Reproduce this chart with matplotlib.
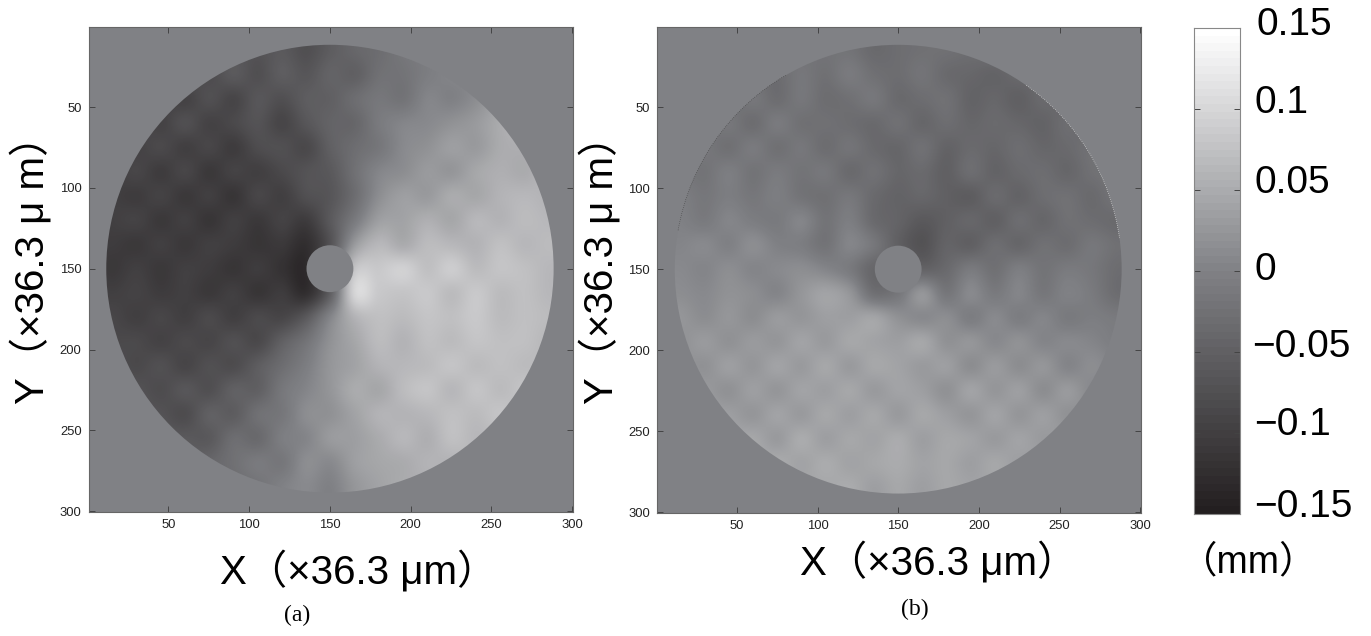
import numpy as np
import matplotlib
matplotlib.use("Agg")
import matplotlib.pyplot as plt
from matplotlib.colors import LinearSegmentedColormap
from matplotlib.patches import Circle, Arc

W, H = 1371, 636
tick_vals = [50, 100, 150, 200, 250, 300]
cbar_vals = [-0.15, -0.1, -0.05, 0, 0.05, 0.1, 0.15]
cbar_labels = ["\u22120.15", "\u22120.1", "\u22120.05", "0", "0.05", "0.1", "0.15"]
grid_positions = list(range(0, 301, 15))

# Estimated height in micrometres at each grid position: rows are Y, columns are X
panel_a_um = [
 [-80,-80,-80,-80,-70,-70,-65,-70,-60,-75,-55,-40,-30,-15,-5,5,15,25,30,30,30],
 [-80,-80,-80,-80,-70,-70,-65,-70,-60,-75,-55,-40,-30,-15,-5,5,15,25,30,30,30],
 [-85,-85,-85,-75,-70,-80,-60,-75,-55,-65,-45,-50,-25,-20,-5,5,10,30,35,40,40],
 [-90,-90,-90,-85,-95,-75,-90,-65,-75,-55,-50,-30,-15,-20,5,0,15,40,50,50,50],
 [-90,-90,-80,-95,-75,-95,-85,-70,-90,-65,-45,-40,-10,5,10,20,30,50,65,60,60],
 [-90,-90,-95,-85,-100,-90,-105,-80,-75,-85,-50,-30,-15,10,20,35,30,50,55,65,65],
 [-95,-100,-90,-105,-90,-110,-95,-100,-85,-70,-60,-25,5,15,30,25,45,55,50,65,65],
 [-100,-100,-105,-95,-110,-100,-115,-90,-100,-75,-65,-30,15,35,30,50,45,60,65,60,60],
 [-105,-100,-95,-110,-100,-115,-100,-110,-95,-105,-60,-10,35,40,55,45,65,60,70,65,65],
 [-105,-105,-110,-100,-110,-100,-105,-115,-110,-125,-70,30,65,50,70,65,60,75,65,70,70],
 [-100,-110,-100,-110,-100,-105,-115,-105,-120,-130,-40,80,85,95,75,90,70,80,75,65,65],
 [-95,-100,-95,-105,-100,-110,-100,-115,-105,-125,-50,100,85,80,85,70,85,70,75,65,65],
 [-90,-90,-100,-90,-100,-85,-100,-85,-90,-60,5,60,75,70,80,75,85,70,75,70,70],
 [-80,-85,-85,-95,-85,-90,-75,-85,-50,-20,20,45,70,60,75,70,80,75,75,65,65],
 [-75,-75,-85,-75,-90,-75,-80,-55,-30,-5,25,40,60,65,70,80,70,75,70,70,70],
 [-70,-70,-70,-80,-65,-75,-50,-50,-15,5,25,50,45,70,80,65,80,70,80,80,80],
 [-65,-65,-65,-70,-80,-50,-55,-25,-15,15,20,40,60,60,65,75,70,80,70,70,70],
 [-60,-60,-60,-60,-60,-60,-30,-35,-5,5,30,35,50,65,55,75,65,70,70,70,70],
 [-50,-50,-50,-50,-50,-40,-25,-10,-15,15,10,35,45,50,60,60,70,70,70,70,70],
 [-40,-40,-40,-40,-40,-40,-30,-20,0,10,0,25,40,50,55,60,60,60,60,60,60],
 [-40,-40,-40,-40,-40,-40,-30,-20,0,10,0,25,40,50,55,60,60,60,60,60,60],
]
panel_b_um = [
 [-15,-15,-15,-15,-15,-15,-20,-20,-20,-35,-30,-25,-25,-30,-25,-25,-25,-25,-25,-25,-25],
 [-15,-15,-15,-15,-15,-15,-20,-20,-20,-35,-30,-25,-25,-30,-25,-25,-25,-25,-25,-25,-25],
 [-20,-20,-20,-20,-25,-30,-15,-25,-10,-25,-30,-20,-35,-40,-45,-35,-35,-30,-30,-30,-30],
 [-25,-25,-25,-30,-15,-30,-15,-30,-25,-15,-35,-30,-25,-45,-40,-50,-35,-40,-30,-30,-30],
 [-25,-25,-25,-15,-30,-10,-25,-25,-30,-35,-25,-40,-30,-40,-35,-40,-45,-30,-40,-35,-35],
 [-20,-20,-15,-25,-10,-25,-15,-30,-20,-35,-40,-25,-45,-35,-40,-30,-40,-35,-25,-35,-35],
 [-15,-15,-20,-5,-20,-10,-20,-15,-35,-25,-40,-35,-50,-30,-45,-35,-30,-40,-25,-20,-20],
 [-5,-5,-15,-5,-15,-5,-20,-25,-15,-35,-45,-40,-50,-55,-35,-45,-30,-25,-35,-20,-20],
 [0,0,-10,5,-5,-10,5,-20,-5,-35,-45,-60,-50,-40,-50,-30,-40,-25,-30,-35,-35],
 [5,5,10,0,15,0,-5,-20,5,-15,-50,-70,-45,-50,-30,-40,-25,-30,-15,-25,-25],
 [10,10,5,15,5,10,15,5,-10,-40,-30,-45,-35,-10,-25,-5,-20,-10,-15,-30,-30],
 [15,15,10,20,15,5,25,40,25,-25,-15,25,-15,10,-10,5,-15,0,-10,-30,-30],
 [25,25,15,25,15,30,25,35,35,42,20,10,15,-5,10,-5,5,-10,-5,-10,-10],
 [20,20,30,20,30,25,40,30,45,40,35,45,20,25,10,20,5,10,5,-5,-5],
 [25,25,20,35,25,40,30,45,30,45,40,30,35,15,30,15,25,5,15,5,5],
 [30,30,30,20,35,25,40,35,45,30,40,35,20,40,25,35,15,30,10,10,10],
 [35,35,35,35,25,40,30,45,35,45,30,45,35,25,40,25,35,20,25,25,25],
 [40,40,40,40,45,30,50,35,45,40,50,35,45,40,30,40,30,35,30,30,30],
 [45,45,45,45,45,50,40,50,40,45,50,40,45,35,45,35,40,35,35,35,35],
 [45,45,45,45,45,45,45,45,50,35,45,35,45,40,40,40,40,40,40,40,40],
 [45,45,45,45,45,45,45,45,50,35,45,35,45,40,40,40,40,40,40,40,40],
]

cmap_nodes = [(0, "#231f20"), (0.5, "#808185"), (1, "#ffffff")]
cmap = LinearSegmentedColormap.from_list("bar", cmap_nodes, N=64)
cmap_fine = LinearSegmentedColormap.from_list("fine", cmap_nodes, N=256)
background = "#808185"
centre = 150
disc_radius = 138.5
hole_radius = 14.5
mixed = ["Liberation Sans", "Noto Sans CJK JP"]
sans = ["Liberation Sans"]
serif = ["Liberation Serif"]


def fig_x(px):
    return px / W


def fig_y(py):
    return 1 - py / H


def make_axes(fig, x0, x1, y0, y1):
    return fig.add_axes([x0 / W, 1 - y1 / H, (x1 - x0) / W, (y1 - y0) / H])


def draw_panel(ax, values_um):
    Z = np.array(values_um) / 1000
    half = (grid_positions[1] - grid_positions[0]) / 2
    low, high = grid_positions[0] - half, grid_positions[-1] + half
    ax.set_facecolor(background)
    im = ax.imshow(Z, cmap=cmap_fine, vmin=-0.15, vmax=0.15, interpolation="catrom",
                   interpolation_stage="data", extent=(low, high, high, low),
                   aspect="auto")
    im.set_clip_path(Circle((centre, centre), disc_radius, transform=ax.transData))
    ax.add_patch(Circle((centre, centre), hole_radius, fc=background, ec="none"))
    ax.set_xlim(0.5, 300.5)
    ax.set_ylim(300.5, 0.5)
    ax.set_xticks(tick_vals)
    ax.set_yticks(tick_vals)
    ax.tick_params(direction="in", length=4, width=0.7, color="#444444",
                   labelsize=9.4, labelcolor="#222222", top=True, right=True, pad=5)
    for lab in ax.get_xticklabels() + ax.get_yticklabels():
        lab.set_family(sans)
    for s in ax.spines.values():
        s.set_linewidth(0.8)
        s.set_color("#666666")


fig = plt.figure(figsize=(W / 100, H / 100), dpi=100)
ax_a = make_axes(fig, 88.5, 573, 27, 512)
ax_b = make_axes(fig, 657, 1141, 27, 513)
draw_panel(ax_a, panel_a_um)
draw_panel(ax_b, panel_b_um)
ax_b.add_patch(Arc((centre, centre), 2 * disc_radius, 2 * disc_radius,
                   theta1=305, theta2=352, color="#e8e8e8", lw=0.5, ls=(0, (1, 2))))
ax_b.add_patch(Arc((centre, centre), 2 * disc_radius, 2 * disc_radius,
                   theta1=190, theta2=240, color="#444444", lw=0.5, ls=(0, (1, 2))))

xlabel = "X\uff08\u00d736.3 \u03bcm\uff09"
ylabel = "Y\uff08\u00d736.3 \u03bc m\uff09"
fs = 29
fig.text(fig_x(359), fig_y(571), xlabel, family=mixed, fontsize=fs, ha="center", va="center")
fig.text(fig_x(939), fig_y(562), xlabel, family=mixed, fontsize=fs, ha="center", va="center")
fig.text(fig_x(31), fig_y(260), ylabel, family=mixed, fontsize=fs, rotation=90, ha="center", va="center")
fig.text(fig_x(600), fig_y(260), ylabel, family=mixed, fontsize=fs, rotation=90, ha="center", va="center")
fig.text(fig_x(297), fig_y(615), "(a)", family=serif, fontsize=17, ha="center", va="center")
fig.text(fig_x(915), fig_y(609), "(b)", family=serif, fontsize=17, ha="center", va="center")

cax = make_axes(fig, 1194, 1240, 28, 514)
level_edges = np.linspace(-0.15, 0.15, 65)
cax.pcolormesh([0, 1], level_edges,
               ((level_edges[:-1] + level_edges[1:]) / 2)[:, None],
               cmap=cmap, vmin=-0.15, vmax=0.15)
cax.set_xlim(0, 1)
cax.set_ylim(-0.15, 0.15)
cax.set_xticks([])
cax.set_yticks(cbar_vals)
cax.set_yticklabels([])
cax.tick_params(axis="y", direction="in", length=4, width=0.7, color="#444444", right=True)
for s in cax.spines.values():
    s.set_linewidth(0.8)
    s.set_color("#888888")

label_px = [(1254, 507), (1254, 425), (1252, 347), (1255, 270), (1255, 183), (1255, 103), (1256, 25)]
for (px, py), txt in zip(label_px, cbar_labels):
    fig.text(fig_x(px), fig_y(py), txt, family=sans, fontsize=28, ha="left", va="center")
fig.text(fig_x(1249), fig_y(562), "\uff08mm\uff09", family=mixed, fontsize=27, ha="center", va="center")

fig.savefig("out.png", dpi=100)
